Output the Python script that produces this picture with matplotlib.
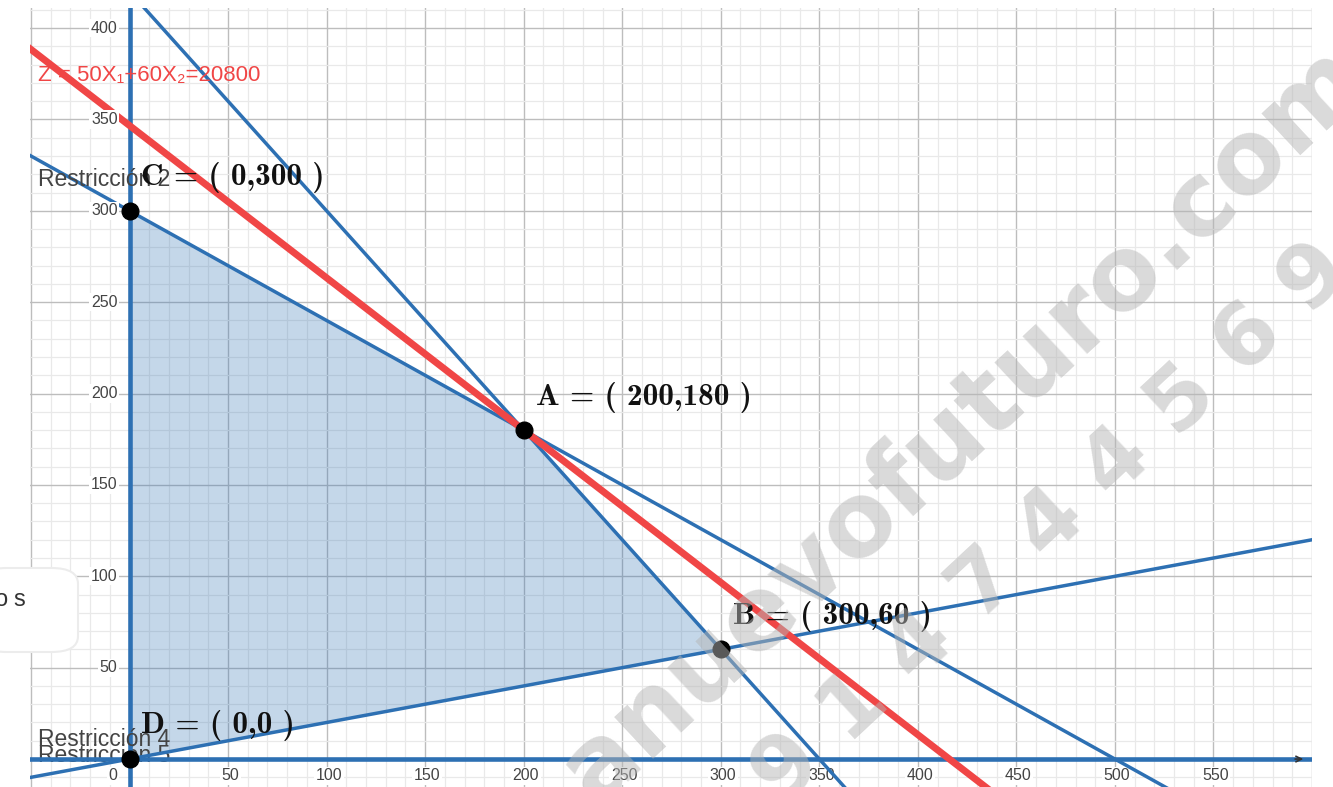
import numpy as np
import matplotlib.pyplot as plt
from matplotlib.patches import Polygon, FancyBboxPatch

# restricciones: a*X1 + b*X2 = c
res_a = [3, 6, 1]
res_b = [5, 5, -5]
res_c = [1500, 2100, 0]

# funcion objetivo Z = 50X1 + 60X2
z_coef = [50, 60]
z_val = 20800

# vertices de la region factible
vert_names = ['A', 'B', 'C', 'D']
vert_x = [200, 300, 0, 0]
vert_y = [180, 60, 300, 0]

x_ticks = [0, 50, 100, 150, 200, 250, 300, 350, 400, 450, 500, 550]
y_ticks = [50, 100, 150, 200, 250, 300, 350, 400]

blue = '#2d70b3'
red = '#f04646'

W, H = 1333, 787
fig = plt.figure(figsize=(W / 100, H / 100), dpi=100)
ax = fig.add_axes([30 / W, 0, 1282 / W, 779 / H])
ax.set_xlim(-50.5, 597)
ax.set_ylim(-15.3, 411)

# cuadricula estilo desmos
ax.set_xticks(np.arange(-50, 601, 50))
ax.set_yticks(np.arange(0, 411, 50))
ax.set_xticks(np.arange(-50, 601, 10), minor=True)
ax.set_yticks(np.arange(-10, 411, 10), minor=True)
ax.grid(which='major', color='#bdbdbd', lw=1.0, zorder=0)
ax.grid(which='minor', color='#e9e9e9', lw=0.9, zorder=0)
ax.tick_params(which='both', length=0, labelbottom=False, labelleft=False)
for s in ax.spines.values():
    s.set_visible(False)
ax.set_axisbelow(True)

# region factible D-C-A-B
order = [3, 2, 0, 1]
poly = Polygon([(vert_x[i], vert_y[i]) for i in order], closed=True,
               facecolor=blue, alpha=0.28, edgecolor='none', zorder=1)
ax.add_patch(poly)

xs = np.linspace(-60, 610, 400)
for a, b, c in zip(res_a, res_b, res_c):
    ax.plot(xs, (c - a * xs) / b, color=blue, lw=2.5, zorder=3)

# x1 >= 0 y x2 >= 0
ax.axvline(0, color=blue, lw=3.3, zorder=3)
ax.axhline(0, color=blue, lw=3.3, zorder=2.6)
ax.annotate('', xy=(597, 0), xytext=(590, 0),
            arrowprops=dict(arrowstyle='->', color='#333333', lw=1.2), zorder=3)

# recta de la funcion objetivo
ax.plot(xs, (z_val - z_coef[0] * xs) / z_coef[1], color=red, lw=5, zorder=3.5)

# etiquetas de los ejes
for t in y_ticks:
    ax.annotate(str(t), (0, t), xytext=(-8.6, 0), textcoords='offset points',
                ha='right', va='center', fontsize=11.5, color='#444444',
                family='Liberation Sans', zorder=4,
                bbox=dict(boxstyle='square,pad=0.1', fc='white', ec='none'))
for t in x_ticks:
    ha = 'right' if t == 0 else 'center'
    dx = -8.6 if t == 0 else 1.5
    ax.annotate(str(t), (t, 0), xytext=(dx, -12.0), textcoords='offset points',
                ha=ha, va='center', fontsize=11.5, color='#444444',
                family='Liberation Sans', zorder=2.5,
                bbox=dict(boxstyle='square,pad=0.1', fc='white', ec='none'))

# nombres de las restricciones
ax.text(-46.5, 317, 'Restricción 2', fontsize=16.5, color='#444444',
        family='Liberation Sans', va='center', zorder=4)
ax.text(-46.5, 1.8, 'Restricción 5', fontsize=16.5, color='#444444',
        family='Liberation Sans', va='center', zorder=2.5)
ax.text(-46.5, 10.6, 'Restricción 4', fontsize=16.5, color='#444444',
        family='Liberation Sans', va='center', zorder=4)
ax.text(-46.5, 373.8, 'Z = 50X\u2081+60X\u2082=20800', fontsize=16, color=red,
        family='Liberation Sans', va='center', zorder=4)

# vertices
ax.plot(vert_x, vert_y, 'o', color='black', ms=12, zorder=6)
for n, x, y in zip(vert_names, vert_x, vert_y):
    lab = '%s = ( %d,%d )' % (n, x, y)
    ax.annotate(lab, (x, y), xytext=(8.6, 23.8), textcoords='offset points',
                ha='left', va='center', fontsize=22.5, color='#111111', zorder=6,
                family=['cmb10', 'DejaVu Serif'])

# panel lateral
box = FancyBboxPatch((-20 / W, 1 - 652 / H), 98 / W, 84 / H,
                     boxstyle='round,pad=0,rounding_size=0.02',
                     transform=fig.transFigure, fc='white', ec='#ececec',
                     lw=1.5, zorder=5)
fig.patches.append(box)
fig.text(8 / W, 1 - 600 / H, 'o', fontsize=17, color='#333333',
         family='Liberation Sans', va='center', ha='right', zorder=6)
fig.text(13 / W, 1 - 600 / H, 's', fontsize=17, color='#333333',
         family='Liberation Sans', va='center', ha='left', zorder=6)

# marca de agua
fig.text(965 / W, 1 - 425 / H, 'anuevofuturo.com', rotation=43,
         rotation_mode='anchor', ha='center', va='center', fontsize=74,
         fontweight='bold', color='#b5b5b5', alpha=0.5, zorder=10)
fig.text(1051 / W, 1 - 524 / H, '9 1 4 7 4 4 5 6 9', rotation=43,
         rotation_mode='anchor', ha='center', va='center', fontsize=62,
         fontweight='bold', color='#b5b5b5', alpha=0.5, zorder=10)

fig.savefig('out.png', dpi=100)
